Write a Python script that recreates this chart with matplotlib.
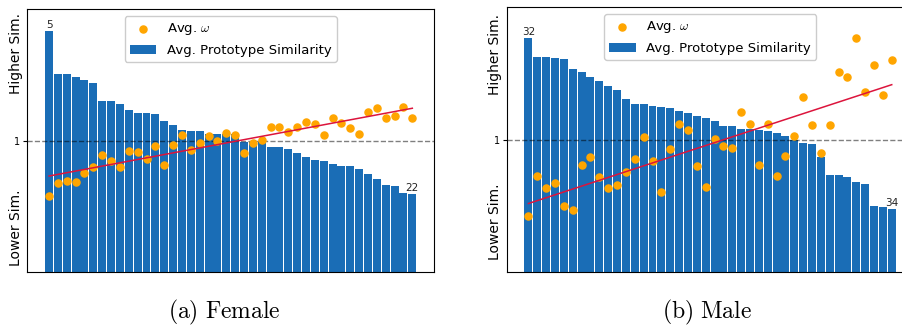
import numpy as np
import matplotlib
matplotlib.use("Agg")
import matplotlib.pyplot as plt

plt.rcParams['mathtext.fontset'] = 'cm'

# female panel
female_sim = [1.833, 1.506, 1.506, 1.483, 1.460, 1.437, 1.300, 1.300, 1.278, 1.232,
              1.209, 1.209, 1.202, 1.148, 1.118, 1.080, 1.072, 1.072, 1.049, 1.049,
              1.049, 1.049, 0.989, 0.989, 0.989, 0.951, 0.951, 0.935, 0.905, 0.875,
              0.852, 0.844, 0.821, 0.806, 0.806, 0.783, 0.745, 0.707, 0.662, 0.654,
              0.601, 0.593]
female_omega = [0.579, 0.673, 0.694, 0.686, 0.750, 0.798, 0.889, 0.844, 0.795, 0.922,
                0.910, 0.859, 0.961, 0.816, 0.966, 1.044, 0.925, 0.981, 1.037, 0.994,
                1.060, 1.039, 0.902, 0.981, 1.006, 1.100, 1.103, 1.065, 1.100, 1.138,
                1.126, 1.039, 1.169, 1.136, 1.093, 1.052, 1.217, 1.250, 1.169, 1.184,
                1.258, 1.172]
female_ends = ['5', '22']

# male panel
male_sim = [1.768, 1.624, 1.624, 1.617, 1.609, 1.534, 1.511, 1.473, 1.443, 1.405,
            1.375, 1.307, 1.269, 1.269, 1.254, 1.247, 1.239, 1.217, 1.202, 1.179,
            1.164, 1.141, 1.103, 1.103, 1.081, 1.081, 1.073, 1.066, 1.050, 1.028,
            0.997, 0.975, 0.967, 0.869, 0.733, 0.733, 0.718, 0.680, 0.665, 0.499,
            0.491, 0.476]
male_omega = [0.421, 0.725, 0.632, 0.675, 0.499, 0.471, 0.811, 0.866, 0.715, 0.632,
              0.660, 0.756, 0.856, 1.020, 0.836, 0.605, 0.927, 1.116, 1.073, 0.801,
              0.642, 1.008, 0.950, 0.935, 1.209, 1.118, 0.811, 1.116, 0.725, 0.874,
              1.025, 1.325, 1.108, 0.902, 1.113, 1.509, 1.476, 1.771, 1.363, 1.567,
              1.340, 1.605]
male_ends = ['32', '34']

captions = [r'$\mathrm{(a)\ Female}$', r'$\mathrm{(b)\ Male}$']

fig = plt.figure(figsize=(9.02, 3.27), dpi=100)
ax1 = fig.add_axes([0.0303, 0.1691, 0.4509, 0.8024])
ax2 = fig.add_axes([0.5618, 0.1682, 0.4509, 0.8095])

panels = [(ax1, female_sim, female_omega, female_ends, 0.833, 0.167),
          (ax2, male_sim, male_omega, male_ends, 0.82, 0.19)]

for ax, sim, omega, ends, yhi, ylo in panels:
    x = np.arange(len(sim))
    ax.bar(x, sim, width=0.9, color='#1a6db6', label='Avg. Prototype Similarity', zorder=1)
    ax.axhline(1, color='black', alpha=0.5, linestyle='--', linewidth=1, zorder=2)
    ax.scatter(x, omega, s=26, color='orange', label=r'Avg. $\omega$', zorder=3)
    fit = np.poly1d(np.polyfit(x, omega, 1))
    ax.plot(x, fit(x), color='crimson', linewidth=1.1, zorder=4)

    ax.text(x[0], sim[0] + 0.01, ends[0], ha='center', va='bottom', fontsize=7.5, color='#222222')
    ax.text(x[-1], sim[-1] + 0.01, ends[1], ha='center', va='bottom', fontsize=7.5, color='#222222')

    ax.set_xlim(-2.45, 43.45)
    ax.set_ylim(0, 2)
    ax.set_xticks([])
    ax.set_yticks([1])
    ax.set_yticklabels(['1'], fontsize=7)
    ax.tick_params(axis='y', length=3, pad=2)

    ax.text(-0.028, yhi, 'Higher Sim.', rotation=90, ha='center', va='center',
            fontsize=10, transform=ax.transAxes)
    ax.text(-0.028, ylo, 'Lower Sim.', rotation=90, ha='center', va='center',
            fontsize=10, transform=ax.transAxes)

    ax.legend(loc='upper center', fontsize=9.5, framealpha=1)

fig.text(224 / 902, 1 - 312 / 327, captions[0], ha='center', va='center', fontsize=17)
fig.text(707 / 902, 1 - 312 / 327, captions[1], ha='center', va='center', fontsize=17)

fig.savefig('out.png', dpi=100)
